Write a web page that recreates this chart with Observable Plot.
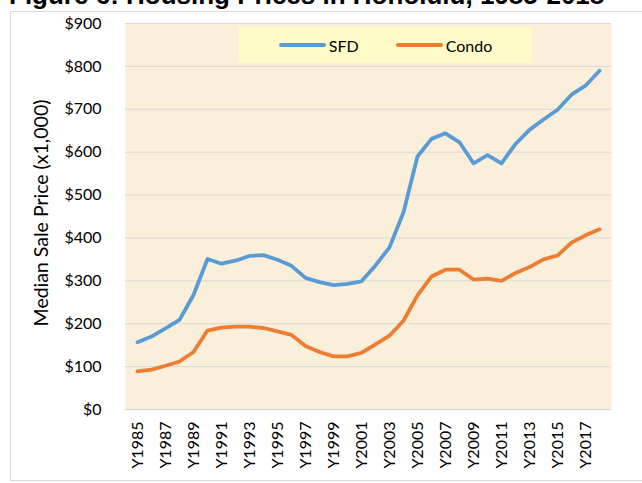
<!DOCTYPE html>
<html>
<head>
<meta charset="utf-8">
<script src="https://cdn.jsdelivr.net/npm/d3@7"></script>
<script src="https://cdn.jsdelivr.net/npm/@observablehq/plot@0.6"></script>
<style>
  html, body { margin: 0; padding: 0; background: #fff; }
  #wrap { position: relative; width: 642px; height: 483px; overflow: hidden; font-family: Lato, "Open Sans", sans-serif; }
  #chart { position: absolute; left: 0; top: 0; }
  #title { position: absolute; left: 9px; top: -18px; font: bold 26px "Liberation Sans", Arial, sans-serif; white-space: nowrap; line-height: 1; color: #000; }
  #border { position: absolute; left: 10px; top: 11px; width: 700px; height: 468px; border: 1px solid #d9d9d9; pointer-events: none; }
  #ytitle { position: absolute; left: 40px; top: 213px; transform: translate(-50%, -50%) rotate(-90deg); font: 19.5px Lato, sans-serif; white-space: nowrap; color: #000; }
  #legend { position: absolute; left: 239px; top: 27px; width: 293px; height: 36px; background: #fdfbc8; display: flex; align-items: center; justify-content: center; gap: 37px; font-size: 16px; font-family: Lato, sans-serif; }
  .item { display: flex; align-items: center; }
  .sw { width: 47px; height: 4px; border-radius: 2px; margin-right: 3px; }
</style>
</head>
<body>
<svg width="0" height="0" style="position:absolute">
  <filter id="parch" x="0" y="0" width="100%" height="100%" color-interpolation-filters="sRGB">
    <feTurbulence type="fractalNoise" baseFrequency="0.03" numOctaves="3" seed="7"/>
    <feColorMatrix type="matrix" values="0.14 0 0 0 0.912  0.18 0 0 0 0.853  0.27 0 0 0 0.725  0 0 0 0 1"/>
  </filter>
</svg>
<div id="wrap">
  <div id="border"></div>
  <div id="chart"></div>
  <div id="title">Figure 6: Housing Prices in Honolulu, 1985-2018</div>
  <div id="ytitle"></div>
  <div id="legend"></div>
</div>
<script>
const years = ["Y1985","Y1986","Y1987","Y1988","Y1989","Y1990","Y1991","Y1992","Y1993","Y1994","Y1995","Y1996","Y1997","Y1998","Y1999","Y2000","Y2001","Y2002","Y2003","Y2004","Y2005","Y2006","Y2007","Y2008","Y2009","Y2010","Y2011","Y2012","Y2013","Y2014","Y2015","Y2016","Y2017","Y2018"];
const sfd = [157,170,189,209,267,351,340,347,358,360,349,335,307,297,290,293,299,336,378,460,590,631,644,623,574,593,574,619,652,676,699,734,755,790];
const condo = [89,93,102,112,134,184,191,193,193,190,182,174,148,134,124,124,132,152,172,207,266,310,326,326,303,305,300,318,332,350,359,389,406,420];
const seriesNames = ["SFD", "Condo"];
const seriesColors = ["#5b9bd5", "#ed7d31"];
const xTickLabels = ["Y1985","Y1987","Y1989","Y1991","Y1993","Y1995","Y1997","Y1999","Y2001","Y2003","Y2005","Y2007","Y2009","Y2011","Y2013","Y2015","Y2017"];
const yTicks = [0,100,200,300,400,500,600,700,800,900];
const yTitle = "Median Sale Price (x1,000)";

const rows = [];
years.forEach((y, i) => {
  rows.push({year: y, value: sfd[i], series: seriesNames[0]});
  rows.push({year: y, value: condo[i], series: seriesNames[1]});
});

const chart = Plot.plot({
  width: 642,
  height: 483,
  marginLeft: 125,
  marginRight: 31,
  marginTop: 23,
  marginBottom: 74,
  style: {fontFamily: "Lato, sans-serif", fontSize: "16px", background: "transparent", color: "#000", overflow: "visible"},
  x: {type: "point", domain: years, padding: 0.5},
  y: {domain: [0, 900]},
  color: {domain: seriesNames, range: seriesColors},
  marks: [
    Plot.frame({fill: "#faefda", stroke: null}),
    Plot.gridY(yTicks, {stroke: "#d9d9d9", strokeOpacity: 1, strokeWidth: 1}),
    Plot.ruleY([0], {stroke: "#d9d9d9", strokeWidth: 1.3}),
    Plot.axisX(xTickLabels, {tickSize: 0, tickPadding: 12, tickRotate: -90, label: null, fontSize: 16}),
    Plot.axisY(yTicks, {tickSize: 0, tickPadding: 24, tickFormat: d => "$" + d, label: null, fontSize: 16}),
    Plot.line(rows, {x: "year", y: "value", z: "series", stroke: "series", strokeWidth: 3.8, strokeLinecap: "round", strokeLinejoin: "round"})
  ]
});
document.getElementById("chart").appendChild(chart);
const frameRect = d3.select(chart).select('g[aria-label="frame"] rect');
if (!frameRect.empty()) frameRect.attr("filter", "url(#parch)");
else d3.select(chart).select('g[aria-label="frame"]').attr("filter", "url(#parch)");

document.getElementById("ytitle").textContent = yTitle;

const leg = document.getElementById("legend");
seriesNames.forEach((n, i) => {
  const it = document.createElement("div");
  it.className = "item";
  const sw = document.createElement("div");
  sw.className = "sw";
  sw.style.background = seriesColors[i];
  const t = document.createElement("span");
  t.textContent = n;
  it.appendChild(sw); it.appendChild(t);
  leg.appendChild(it);
});
</script>
</body>
</html>
